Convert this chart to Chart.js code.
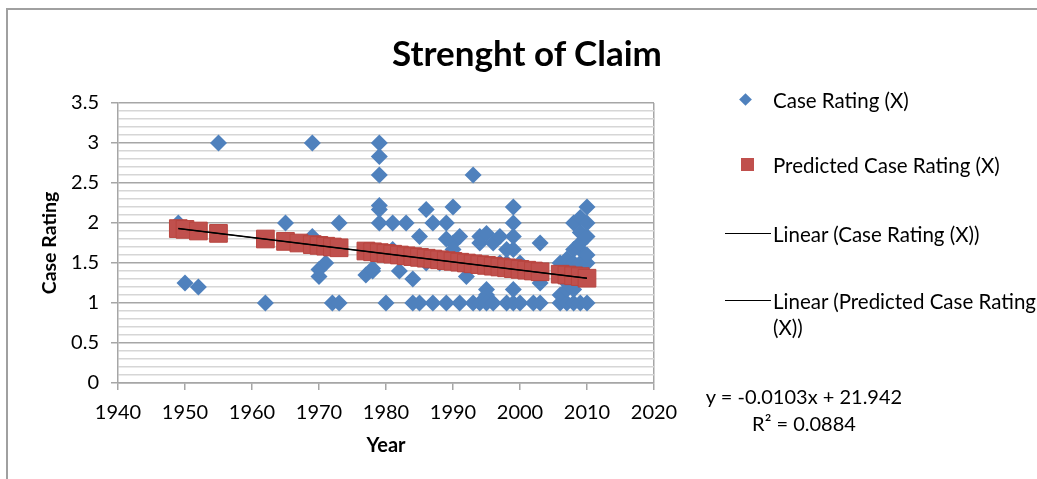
<!DOCTYPE html>
<html>
<head>
<meta charset="utf-8">
<script src="https://cdn.jsdelivr.net/npm/chart.js@4"></script>
<style>
  body { margin: 0; background: #fff; font-family: 'Lato', sans-serif; color: #000; }
  #wrap { position: relative; width: 1037px; height: 479px; overflow: hidden; }
  #chart { position: absolute; left: 0; top: 0; }
  .frame { position: absolute; left: 6px; top: 8px; right: -4px; bottom: -4px;
           border-top: 2px solid #a0a0a0; border-left: 2px solid #a0a0a0; }
  .txt { position: absolute; white-space: nowrap; line-height: 1; }
  #title { left: 527px; top: 52px; transform: translate(-50%, -50%); font-size: 35px; font-weight: bold; }
  .leg { left: 773px; font-size: 20.5px; transform: translateY(-50%); }
  .sym { position: absolute; }
  .eq { font-size: 20px; transform: translate(-50%, -50%); left: 804px; }
</style>
</head>
<body>
<div id="wrap">
  <canvas id="chart" width="1037" height="479"></canvas>
  <div class="frame"></div>
  <div id="title" class="txt">Strenght of Claim</div>

  <div class="sym" style="left:741px;top:95px;width:9px;height:9px;background:#4F81BD;transform:rotate(45deg);"></div>
  <div class="txt leg" style="top:100px;">Case Rating (X)</div>
  <div class="sym" style="left:741px;top:158px;width:13px;height:13px;background:#C0504D;"></div>
  <div class="txt leg" style="top:165px;">Predicted Case Rating (X)</div>
  <div class="sym" style="left:725px;top:233px;width:46px;height:1px;background:#000;"></div>
  <div class="txt leg" style="top:234px;">Linear (Case Rating (X))</div>
  <div class="sym" style="left:725px;top:300px;width:46px;height:1px;background:#000;"></div>
  <div class="txt leg" style="top:301px;">Linear (Predicted Case Rating</div>
  <div class="txt leg" style="top:327px;">(X))</div>

  <div class="txt eq" style="top:396px;">y = -0.0103x + 21.942</div>
  <div class="txt eq" style="top:423px;">R² = 0.0884</div>
</div>
<script>
'use strict';
// データ
// 実際の評価 (年, 評価)
const caseYears = [
  1949, 1950, 1952, 1955, 1962, 1965, 1967, 1969, 1969, 1970, 1970, 1971, 1972, 1973, 1973,
  1977, 1978, 1978, 1979, 1979, 1979, 1979, 1979, 1979, 1980, 1981, 1981, 1982, 1983,
  1984, 1984, 1985, 1985, 1986, 1986, 1987, 1987, 1988, 1989, 1989, 1989,
  1990, 1990, 1990, 1991, 1991, 1992, 1993, 1993, 1994, 1994, 1994, 1994,
  1995, 1995, 1995, 1995, 1996, 1996, 1997, 1997, 1998, 1998, 1998,
  1999, 1999, 1999, 1999, 1999, 1999, 2000, 2000, 2001, 2002, 2003, 2003, 2003, 2003,
  2006, 2006, 2006, 2007, 2007, 2007, 2007, 2008, 2008, 2008, 2008, 2008, 2008,
  2009, 2009, 2009, 2009, 2009, 2009, 2010, 2010, 2010, 2010, 2010, 2010, 2010,
];
const caseRatings = [
  2.0, 1.25, 1.2, 3.0, 1.0, 2.0, 1.75, 3.0, 1.83, 1.33, 1.42, 1.5, 1.0, 1.0, 2.0,
  1.35, 1.4, 1.43, 3.0, 2.83, 2.6, 2.22, 2.17, 2.0, 1.0, 2.0, 1.67, 1.4, 2.0,
  1.3, 1.0, 1.0, 1.83, 2.17, 1.5, 2.0, 1.0, 1.5, 2.0, 1.0, 1.8,
  2.2, 1.75, 1.67, 1.83, 1.0, 1.33, 2.6, 1.0, 1.83, 1.75, 1.5, 1.0,
  1.87, 1.17, 1.1, 1.0, 1.75, 1.0, 1.5, 1.83, 1.0, 1.67, 1.5,
  2.2, 2.0, 1.83, 1.67, 1.17, 1.0, 1.0, 1.5, 1.4, 1.0, 1.75, 1.0, 1.25, 1.33,
  1.0, 1.1, 1.5, 1.0, 1.17, 1.25, 1.55, 1.0, 1.33, 1.5, 1.67, 2.0, 1.17,
  1.0, 1.5, 1.67, 1.75, 1.88, 2.07, 1.0, 1.33, 1.5, 1.6, 1.83, 2.0, 2.2,
];

// 予測値
const predYears = [
  1949, 1950, 1952, 1955, 1962, 1965, 1967, 1969, 1970, 1971, 1972, 1973,
  1977, 1978, 1979, 1980, 1981, 1982, 1983, 1984, 1985, 1986, 1987, 1988, 1989, 1990,
  1991, 1992, 1993, 1994, 1995, 1996, 1997, 1998, 1999, 2000, 2001, 2002, 2003,
  2006, 2007, 2008, 2009, 2010,
];
const predRatings = [
  1.93, 1.92, 1.90, 1.87, 1.80, 1.77, 1.75, 1.73, 1.72, 1.71, 1.70, 1.69,
  1.65, 1.64, 1.63, 1.62, 1.61, 1.60, 1.59, 1.58, 1.57, 1.56, 1.55, 1.54, 1.53, 1.52,
  1.51, 1.50, 1.49, 1.48, 1.47, 1.46, 1.45, 1.44, 1.43, 1.42, 1.41, 1.40, 1.39,
  1.36, 1.35, 1.34, 1.33, 1.31,
];

// 近似直線
const trendYears = [1949, 2010];
const caseTrend = [1.93, 1.31];
const predTrend = [1.93, 1.31];

// 目盛り
const xTicks = [1940, 1950, 1960, 1970, 1980, 1990, 2000, 2010, 2020];
const yLabels = ['0', '0.5', '1', '1.5', '2', '2.5', '3', '3.5'];

const FONT = 'Lato';
const MAJOR = '#a6a6a6';
const MINOR = '#d6d6d6';

function toPoints(xs, ys) {
  return xs.map((x, i) => ({ x: x, y: ys[i] }));
}

function isMajor(v) {
  return Math.abs(v * 2 - Math.round(v * 2)) < 1e-6;
}

const ctx = document.getElementById('chart');
new Chart(ctx, {
  type: 'scatter',
  data: {
    datasets: [
      {
        label: 'Linear (Case Rating (X))',
        data: toPoints(trendYears, caseTrend),
        showLine: true,
        borderColor: '#000',
        borderWidth: 1.5,
        pointRadius: 0,
        order: 0,
      },
      {
        label: 'Linear (Predicted Case Rating (X))',
        data: toPoints(trendYears, predTrend),
        showLine: true,
        borderColor: '#000',
        borderWidth: 1,
        pointRadius: 0,
        order: 1,
      },
      {
        label: 'Predicted Case Rating (X)',
        data: toPoints(predYears, predRatings),
        pointStyle: 'rect',
        pointRadius: 12.5,
        backgroundColor: '#C0504D',
        borderColor: '#B8453F',
        borderWidth: 1,
        order: 2,
      },
      {
        label: 'Case Rating (X)',
        data: toPoints(caseYears, caseRatings),
        pointStyle: 'rectRot',
        pointRadius: 8.5,
        backgroundColor: '#4F81BD',
        borderColor: '#4F81BD',
        borderWidth: 0,
        order: 3,
      },
    ],
  },
  options: {
    responsive: false,
    animation: false,
    layout: { padding: { left: 0, top: 103, right: 383, bottom: 0 } },
    plugins: {
      legend: { display: false },
      tooltip: { enabled: false },
    },
    scales: {
      x: {
        min: xTicks[0],
        max: xTicks[xTicks.length - 1],
        afterFit: (s) => { s.height = 96; },
        afterBuildTicks: (s) => { s.ticks = xTicks.map((v) => ({ value: v })); },
        ticks: {
          autoSkip: false,
          maxRotation: 0,
          padding: 11,
          color: '#000',
          font: { family: FONT, size: 20 },
          callback: (v) => String(v),
        },
        grid: {
          color: (c) => (c.tick && c.tick.value === 2020 ? MAJOR : 'rgba(0,0,0,0)'),
          tickColor: MAJOR,
          tickLength: 7,
          lineWidth: 1.5,
        },
        border: { color: MAJOR, width: 1.5 },
        title: {
          display: true,
          text: 'Year',
          color: '#000',
          font: { family: FONT, size: 20, weight: 'bold' },
          padding: { top: 0, bottom: 21 },
        },
      },
      y: {
        min: 0,
        max: 3.5,
        afterFit: (s) => { s.width = 118; },
        ticks: {
          stepSize: 0.1,
          autoSkip: false,
          padding: 12,
          color: '#000',
          font: { family: FONT, size: 20 },
          callback: (v) => (isMajor(v) ? yLabels[Math.round(v * 2)] : ''),
        },
        grid: {
          color: (c) => (c.tick && isMajor(c.tick.value) ? MAJOR : MINOR),
          tickColor: (c) => (c.tick && isMajor(c.tick.value) ? MAJOR : 'rgba(0,0,0,0)'),
          tickLength: 7,
          lineWidth: 1.5,
        },
        border: { color: MAJOR, width: 1.5 },
        title: {
          display: true,
          text: 'Case Rating',
          color: '#000',
          font: { family: FONT, size: 19.5, weight: 'bold' },
          padding: { top: 38, bottom: 0 },
        },
      },
    },
  },
});
</script>
</body>
</html>
